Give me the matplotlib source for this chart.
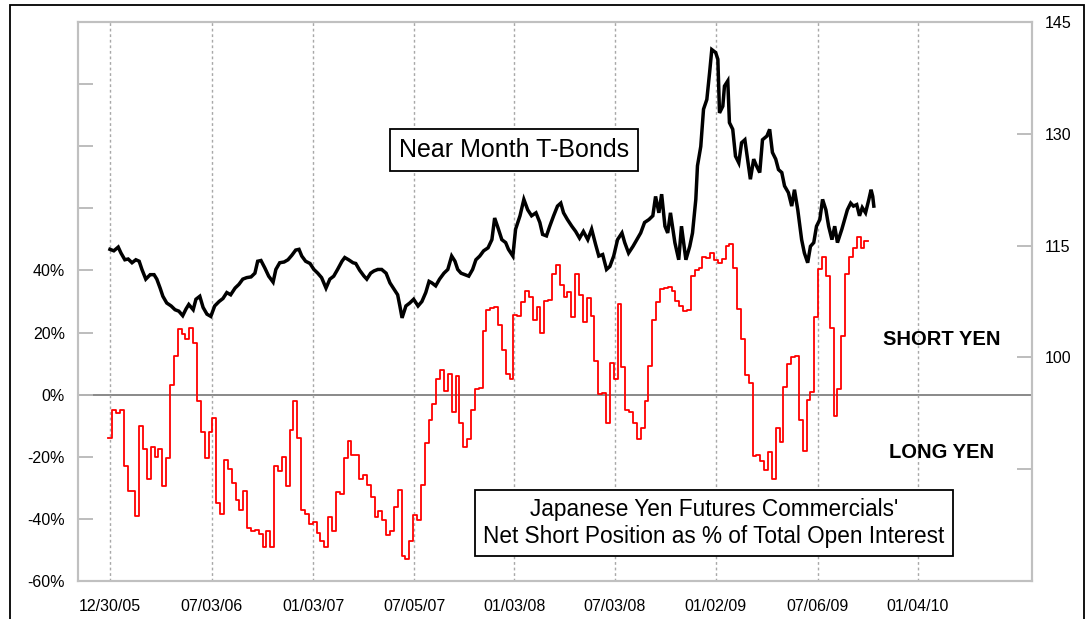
import numpy as np
import pandas as pd
import matplotlib
matplotlib.use('Agg')
import matplotlib.pyplot as plt
from matplotlib.patches import Rectangle

plt.rcParams['font.family'] = ['Liberation Sans', 'DejaVu Sans']

# Japanese yen futures, commercials' net short as % of open interest (weekly, Tuesdays)
yen_start = '2005-12-27'
yen_net_short = [
    -14, -5, -6, -5, -23, -31, -31, -39, -10, -17.5,
    -27, -17, -20, -17.5, -29.5, -20.5, 3, 12.5, 21, 19.5,
    18, 21.5, 16.5, -2, -12, -20.5, -12, -7.5, -35, -38.5,
    -21, -24, -28.5, -34, -37, -31, -43, -44, -43.5, -45,
    -49, -44, -49, -23, -24.5, -20, -29.5, -11.5, -2, -14,
    -37, -38.5, -41.5, -41, -44.5, -47, -49, -39.5, -44, -31.5,
    -32, -20.5, -15, -19.5, -19.5, -27, -26, -29, -33, -39.5,
    -37.5, -40.3, -45.3, -44, -36.2, -30.8, -52, -53, -47, -38.6,
    -40.3, -29, -15.7, -8, -2.9, 5, 8.1, 1.2, 6.6, -5.6,
    6, -9.2, -17, -14.3, -4.9, 1.9, 2.1, 20.6, 27.3, 27.9,
    28.2, 22.5, 14.4, 6.8, 5, 25.5, 25.2, 29.7, 33.3, 31.6,
    24.1, 28.2, 19.8, 30.3, 30.6, 39, 41.7, 35.4, 31.6, 32.9,
    25, 38.7, 32.2, 23.5, 31.1, 25.4, 10.8, 0.3, 0.4, -9.1,
    10.2, 5.2, 29.3, 8.9, -4.9, -5.6, -9.2, -14.3, -10.7, -2.1,
    9.2, 24.1, 29.7, 34.1, 34.3, 34.7, 33.3, 30, 28.6, 27.1,
    27.3, 38.1, 40, 40.8, 44.4, 44, 45.7, 43.5, 42.4, 43.6,
    47.8, 48.4, 40.8, 27.6, 17.8, 6.3, 3.6, -19.7, -19.3, -21.3,
    -24.2, -18.6, -27.2, -10.7, -15.1, 2.5, 10, 12, 12.5, -8,
    -18.3, -1.8, 0.8, 25.1, 40.5, 44.4, 38.1, 21.6, -7, 1.7,
    18.9, 38.7, 44.4, 47.1, 50.9, 47.1, 49.4,
]

# near month T-bond futures price (right axis), days after 12/30/05
tbond_start = '2005-12-30'
tbond_day = [
    0, 7, 15, 20, 27, 33, 40, 47, 53, 58,
    65, 73, 80, 85, 91, 96, 103, 111, 118, 125,
    132, 138, 143, 151, 156, 163, 169, 176, 183, 190,
    198, 205, 212, 219, 227, 234, 241, 248, 256, 263,
    268, 274, 281, 288, 296, 301, 308, 316, 323, 330,
    337, 343, 348, 355, 363, 370, 377, 384, 392, 399,
    406, 413, 421, 426, 433, 441, 446, 453, 461, 466,
    473, 479, 486, 493, 501, 508, 515, 522, 526, 530,
    537, 544, 551, 559, 566, 573, 579, 584, 591, 598,
    606, 613, 620, 626, 631, 637, 644, 651, 658, 664,
    671, 678, 686, 693, 698, 704, 711, 718, 723, 731,
    736, 744, 751, 758, 765, 773, 780, 785, 792, 798,
    805, 812, 818, 823, 830, 838, 845, 852, 859, 867,
    874, 881, 887, 894, 901, 907, 914, 921, 929, 934,
    941, 949, 956, 963, 970, 978, 985, 990, 996, 1001,
    1007, 1012, 1017, 1025, 1032, 1037, 1045, 1052, 1057, 1063,
    1066, 1072, 1077, 1083, 1088, 1092, 1099, 1103, 1106, 1112,
    1115, 1121, 1124, 1130, 1135, 1141, 1146, 1152, 1157, 1162,
    1168, 1173, 1179, 1184, 1192, 1197, 1202, 1208, 1213, 1219,
    1224, 1231, 1237, 1242, 1248, 1255, 1260, 1266, 1271, 1277,
    1282, 1288, 1293, 1299, 1304, 1310, 1315, 1320, 1328, 1333,
    1338, 1344, 1349, 1355, 1360, 1365, 1371, 1377, 1381, 1384,
    1386,
]
tbond = [
    114.5, 114.3, 114.8, 114.0, 113.1, 113.2, 112.7, 113.1, 112.9, 111.8,
    110.5, 111.1, 111.1, 110.5, 109.3, 108.2, 107.3, 106.9, 106.4, 106.2,
    105.6, 106.5, 107.1, 106.4, 107.8, 108.2, 106.7, 105.8, 105.5, 106.9,
    107.5, 107.9, 108.7, 108.4, 109.3, 109.8, 110.5, 110.7, 110.8, 111.3,
    112.9, 113.0, 112.0, 110.9, 110.1, 111.8, 112.7, 112.8, 113.1, 113.7,
    114.4, 114.5, 113.6, 112.9, 112.6, 111.8, 111.3, 110.7, 109.3, 110.5,
    110.9, 111.8, 112.9, 113.4, 113.1, 112.7, 112.6, 111.7, 110.9, 110.5,
    111.3, 111.6, 111.8, 111.8, 111.3, 110.0, 109.2, 108.4, 106.9, 105.3,
    106.9, 107.3, 107.8, 106.9, 107.5, 108.7, 110.2, 110.0, 109.6, 110.5,
    111.3, 111.8, 113.6, 112.9, 111.8, 111.3, 111.1, 110.9, 111.8, 113.1,
    113.6, 114.3, 114.7, 115.8, 118.7, 117.4, 115.8, 115.4, 114.5, 113.6,
    117.2, 119.0, 121.2, 119.8, 119.0, 119.4, 118.1, 116.5, 116.3, 117.6,
    119.0, 120.3, 120.7, 119.4, 118.5, 117.6, 116.9, 116.0, 116.9, 115.8,
    117.2, 115.2, 113.6, 113.8, 111.8, 112.2, 113.6, 115.8, 116.7, 115.4,
    114.0, 114.9, 115.8, 116.7, 118.1, 118.5, 119.0, 121.6, 119.4, 121.9,
    117.6, 116.7, 119.4, 115.4, 113.1, 117.6, 113.1, 114.9, 116.7, 121.2,
    125.7, 128.3, 133.3, 134.6, 138.2, 141.3, 140.9, 140.0, 132.8, 133.7,
    136.4, 137.1, 131.5, 130.6, 127.0, 126.1, 128.8, 129.2, 126.6, 123.9,
    126.6, 125.7, 124.8, 129.2, 129.7, 130.6, 127.5, 126.6, 125.2, 124.8,
    123.0, 122.1, 120.3, 122.5, 119.8, 115.8, 114.0, 112.7, 114.9, 115.4,
    117.6, 118.5, 121.2, 119.8, 117.6, 115.8, 117.6, 115.4, 117.2, 118.5,
    119.8, 120.7, 120.3, 120.5, 119.0, 120.1, 119.4, 121.2, 122.5, 121.6,
    120.3,
]

tick_dates = ['2005-12-30', '2006-07-03', '2007-01-03', '2007-07-05', '2008-01-03',
              '2008-07-03', '2009-01-02', '2009-07-06', '2010-01-04']

yen_dates = pd.date_range(yen_start, periods=len(yen_net_short) + 1, freq='7D')
yen_vals = yen_net_short + [yen_net_short[-1]]
tb_dates = pd.Timestamp(tbond_start) + pd.to_timedelta(tbond_day, unit='D')
ticks = pd.to_datetime(tick_dates)

W, H = 1092, 619
fig = plt.figure(figsize=(W / 100, H / 100), dpi=100)
ax = fig.add_axes([78 / W, 38 / H, 954 / W, 559 / H])

ax.set_xlim(pd.Timestamp('2005-11-02'), pd.Timestamp('2010-07-30'))
ax.set_xticks(ticks)
ax.set_xticklabels(ticks.strftime('%m/%d/%y'))
ax.grid(axis='x', color='#a8a8a8', linestyle=(0, (2, 2)), lw=1)
ax.tick_params(axis='x', length=0, pad=13, labelsize=11.5)

ax.set_ylim(-60, 120)
yt = list(range(-60, 121, 20))
ax.set_yticks(yt)
ax.set_yticklabels([f'{v}%' if v <= 40 else '' for v in yt])
ax.tick_params(axis='y', direction='in', length=11, width=1.3, color='#b8b8b8',
               pad=9.5, labelsize=11.5)
ax.axhline(0, color='#808080', lw=1.3, zorder=1)
ax.step(yen_dates, yen_vals, where='post', color='#ff0000', lw=1.3, zorder=3)

ax2 = ax.twinx()
ax2.set_ylim(70, 145)
rt = [70, 85, 100, 115, 130, 145]
ax2.set_yticks(rt)
ax2.set_yticklabels(['' if v < 100 else str(v) for v in rt])
ax2.tick_params(axis='y', direction='in', length=11, width=1.3, color='#b8b8b8',
                pad=9.5, labelsize=11.5)
ax2.plot(tb_dates, tbond, color='black', lw=2.5, solid_joinstyle='miter')

for a in (ax, ax2):
    for s in a.spines.values():
        s.set_color('#c0c0c0')
        s.set_linewidth(1.5)

fig.patches.append(Rectangle((10 / W, -0.05), 1074 / W, 1.05 - 5 / H,
                             transform=fig.transFigure, fill=False, ec='black', lw=1.3))

box = dict(boxstyle='square,pad=0.35', fc='white', ec='black', lw=1.3)
fig.text(514 / W, 1 - 150 / H, 'Near Month T-Bonds', ha='center', va='center',
         fontsize=18, bbox=box)
fig.text(714 / W, 1 - 523 / H,
         "Japanese Yen Futures Commercials'\nNet Short Position as % of Total Open Interest",
         ha='center', va='center', ma='center', fontsize=16.3, linespacing=1.25, bbox=box)
fig.text(942 / W, 1 - 340 / H, 'SHORT YEN', ha='center', va='center',
         fontsize=14.5, fontweight='bold')
fig.text(942 / W, 1 - 452 / H, 'LONG YEN', ha='center', va='center',
         fontsize=14.5, fontweight='bold')

fig.savefig('out.png', dpi=100, facecolor='white')
